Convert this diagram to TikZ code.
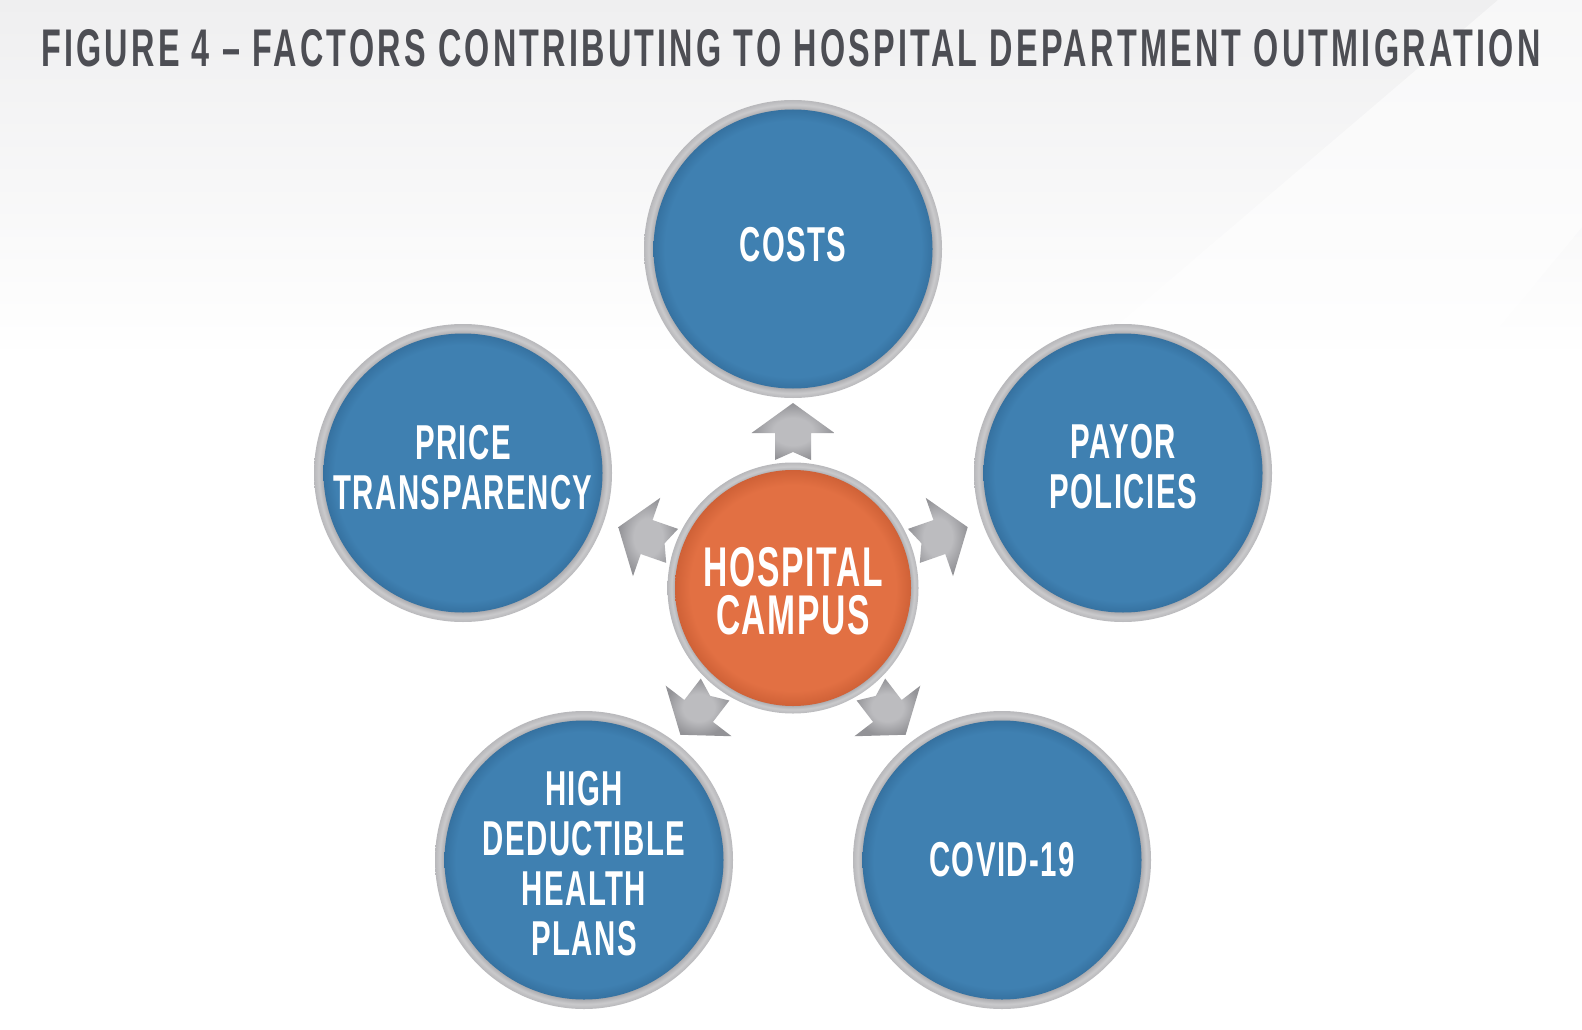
\documentclass[tikz,border=0pt]{standalone}
\usepackage{fontspec}
\usepackage{graphicx}
\newfontfamily\condf{Liberation Sans}[FakeStretch=0.6, LetterSpace=3]
\newfontfamily\titlef{Liberation Sans}[FakeStretch=0.6, LetterSpace=6]
\definecolor{titlegray}{HTML}{4D4E54}
\definecolor{bluec}{HTML}{3F80B1}
\definecolor{blued}{HTML}{2E6693}
\definecolor{orangec}{HTML}{E27043}
\definecolor{oranged}{HTML}{C65A31}
\definecolor{ringin}{HTML}{A4A4A8}
\definecolor{ringmid}{HTML}{CACACC}
\definecolor{ringout}{HTML}{B8B8BB}
\definecolor{arrowin}{HTML}{BCBCBF}
\definecolor{arrowout}{HTML}{939397}
\definecolor{bgtop}{HTML}{EFEFF0}
\pgfdeclareradialshading{ringsh}{\pgfpoint{0bp}{0bp}}{color(0bp)=(ringin); color(23.2bp)=(ringin); color(24.2bp)=(ringmid); color(25bp)=(ringout); color(50bp)=(ringout)}
\pgfdeclareradialshading{bluesh}{\pgfpoint{0bp}{0bp}}{color(0bp)=(bluec); color(21.5bp)=(bluec); color(25bp)=(blued); color(50bp)=(blued)}
\pgfdeclareradialshading{orangesh}{\pgfpoint{0bp}{0bp}}{color(0bp)=(orangec); color(20.5bp)=(orangec); color(25bp)=(oranged); color(50bp)=(oranged)}
\pgfdeclareradialshading{arrowsh}{\pgfpoint{0bp}{0bp}}{color(0bp)=(arrowin); color(12bp)=(arrowin); color(25bp)=(arrowout); color(50bp)=(arrowout)}
\tikzset{
  bubble/.style={circle, minimum size=298pt, inner sep=0pt, shade, shading=ringsh,
    path picture={\shade[shading=bluesh] (path picture bounding box.center) circle (139.5pt);}},
  hub/.style={circle, minimum size=251pt, inner sep=0pt, shade, shading=ringsh,
    path picture={\shade[shading=orangesh] (path picture bounding box.center) circle (118pt);}},
  lab/.style={text=white, inner sep=0pt, align=center, font=\condf\bfseries\fontsize{49}{50}\selectfont},
  hublab/.style={text=white, inner sep=0pt, align=center, font=\condf\bfseries\fontsize{56}{48}\selectfont},
  outarrow/.pic={\shade[shading=arrowsh] (128,18) -- (155,18) -- (155,41.5) -- (185,0) -- (155,-41.5) -- (155,-18) -- (128,-18) -- (136,0) -- cycle;}
}
\begin{document}
\begin{tikzpicture}[x=1pt,y=-1pt]
\useasboundingbox (0,0) rectangle (1582,1030);
% background
\fill[white] (0,0) rectangle (1582,1030);
\shade[top color=bgtop, bottom color=white] (0,0) rectangle (1582,360);
\fill[white, opacity=0.55] (1498,0) -- (1582,0) -- (1582,227) -- (1250,630) -- (760,630) -- cycle;
% title
\node[anchor=base west, inner sep=0pt, text=titlegray] (title) at (41,67)
  {\resizebox{1499pt}{37pt}{\titlef\bfseries FIGURE 4 – FACTORS CONTRIBUTING TO HOSPITAL DEPARTMENT OUTMIGRATION}};
% hub
\node[hub, label={[hublab, yshift=-3pt]center:HOSPITAL\\CAMPUS}] (hc) at (793,588) {};
% outer circles
\node[bubble, label={[lab, yshift=4pt]center:COSTS}] (costs) at (793,249) {};
\node[bubble, label={[lab, yshift=5.5pt]center:PRICE\\TRANSPARENCY}] (price) at (463,473) {};
\node[bubble, label={[lab, yshift=6pt]center:PAYOR\\POLICIES}] (payor) at (1123,473) {};
\node[bubble, label={[lab, yshift=-3.5pt]center:HIGH\\DEDUCTIBLE\\HEALTH\\PLANS}] (hdhp) at (584,860) {};
\node[bubble, label={[lab]center:COVID-19}] (covid) at (1002,860) {};
% arrows
\pic[rotate=90] at (hc) {outarrow};
\pic[rotate=160.8] at (hc) {outarrow};
\pic[rotate=19.2] at (hc) {outarrow};
\pic[rotate=232.5] at (hc) {outarrow};
\pic[rotate=-52.5] at (hc) {outarrow};
\end{tikzpicture}
\end{document}
